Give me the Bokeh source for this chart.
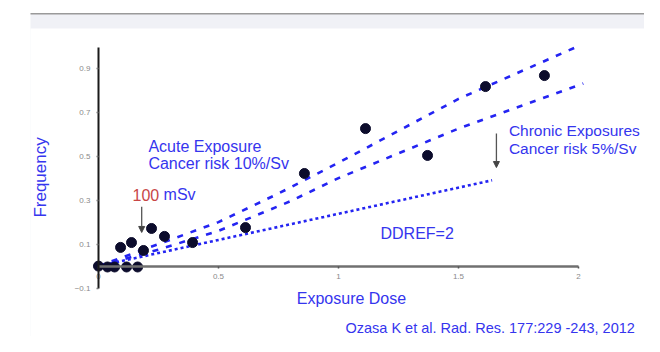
import math
from bokeh.plotting import figure
from bokeh.models import (Range1d, LinearAxis, FixedTicker, Label, Arrow, NormalHead,
                          BoxAnnotation)
from bokeh.embed import file_html
from bokeh.resources import INLINE

# ---- data ----
dose = [0.0, 0.0375, 0.067, 0.117, 0.163, 0.092, 0.1375, 0.1875, 0.221, 0.275,
        0.392, 0.6125, 0.858, 1.1125, 1.371, 1.6125, 1.858]
freq = [0.0, -0.004, -0.004, -0.004, -0.004, 0.085, 0.107, 0.071, 0.171, 0.135,
        0.107, 0.175, 0.421, 0.625, 0.503, 0.816, 0.866]

acute_x = [0.0, 0.2, 0.5, 0.75, 1.0, 1.5, 2.0]
acute_y = [0.0, 0.08, 0.2, 0.33, 0.47, 0.76, 1.0]
chronic_x = [0.0, 0.25, 0.5, 0.8, 1.0, 1.5, 2.02]
chronic_y = [0.0, 0.075, 0.16, 0.295, 0.40, 0.625, 0.83]
ddref_x = [0.0, 1.64]
ddref_y = [0.0, 0.39]

x_ticks = [0, 0.5, 1, 1.5, 2]
y_ticks = [-0.1, 0.1, 0.3, 0.5, 0.7, 0.9]

FONT = "Liberation Sans"
BLUE_TXT = "#3535ee"
BLUE_LN = "#2424f2"
DOT = "#0c0c2c"

W, H = 644, 336
p = figure(width=W, height=H, output_backend="svg", toolbar_location=None,
           x_range=Range1d(-0.2833, 2.275), y_range=Range1d(-0.32, 1.1618),
           x_axis_type=None, y_axis_type=None,
           min_border_left=30, min_border_right=0, min_border_top=10,
           min_border_bottom=0)
p.outline_line_color = None
p.grid.visible = False
p.background_fill_color = "white"
p.border_fill_color = "white"

# slide-like background band
def cbox(l, r, t, b, color):
    p.add_layout(BoxAnnotation(left=l, right=r, top=t, bottom=b,
                               left_units="canvas", right_units="canvas",
                               top_units="canvas", bottom_units="canvas",
                               fill_color=color, fill_alpha=1, line_color=None,
                               level="underlay"))

cbox(8, W, 13, H, "#f0f1f6")
cbox(15, W, 28, H, "#ffffff")
cbox(8, W, 12.5, 14, "#9a9a9a")

# x axis: sits at y = 0, labels below the line
xaxis = LinearAxis(fixed_location=0, bounds=(0, 2),
                   ticker=FixedTicker(ticks=x_ticks))
xaxis.major_label_overrides = {0: "0", 1: "1", 2: "2"}
xaxis.axis_line_color = "#707070"
xaxis.axis_line_width = 2.5
xaxis.major_tick_line_color = "#555555"
xaxis.major_tick_line_width = 1.5
xaxis.major_tick_out = 0
xaxis.major_tick_in = 2
xaxis.minor_tick_out = 0
xaxis.minor_tick_in = 0
xaxis.minor_tick_line_color = None
xaxis.major_label_text_font = FONT
xaxis.major_label_text_font_size = "8px"
xaxis.major_label_text_color = "#8a8a8a"
xaxis.major_label_standoff = -13
p.add_layout(xaxis, "above")

# y axis: sits at x = 0
yaxis = LinearAxis(fixed_location=0, bounds=(-0.1, 0.994),
                   ticker=FixedTicker(ticks=y_ticks))
yaxis.axis_line_color = "#1a1a1a"
yaxis.axis_line_width = 2
yaxis.major_tick_line_color = "#777777"
yaxis.major_tick_line_width = 1.5
yaxis.major_tick_out = 2
yaxis.major_tick_in = 0
yaxis.minor_tick_out = 0
yaxis.minor_tick_in = 0
yaxis.minor_tick_line_color = None
yaxis.major_label_text_font = FONT
yaxis.major_label_text_font_size = "8px"
yaxis.major_label_text_color = "#8a8a8a"
yaxis.major_label_standoff = 6
p.add_layout(yaxis, "left")

# model lines
p.line(acute_x, acute_y, line_color=BLUE_LN, line_width=2.6, line_dash="6 8")
p.line(chronic_x, chronic_y, line_color=BLUE_LN, line_width=2.6, line_dash="6 8")
p.line(ddref_x, ddref_y, line_color=BLUE_LN, line_width=2.6, line_dash="3 3")

# observed points
p.scatter(dose, freq, size=10, marker="circle", fill_color=DOT, line_color=DOT)

# arrows
for xa, ya0, ya1 in [(0.18, 0.27, 0.153), (1.658, 0.603, 0.448)]:
    p.add_layout(Arrow(x_start=xa, y_start=ya0, x_end=xa, y_end=ya1,
                       line_color="#555555", line_width=1.3,
                       end=NormalHead(size=6, fill_color="#444444",
                                      line_color="#444444")))

def lab(x, y, text, color=BLUE_TXT, size="16px", x_offset=0, align="left", angle=0.0):
    p.add_layout(Label(x=x, y=y, text=text, text_font=FONT, text_font_size=size,
                       text_color=color, text_baseline="middle", text_align=align,
                       x_offset=x_offset, angle=angle))

# axis titles
lab(-0.2417, 0.403, "Frequency", size="17px", align="center", angle=math.pi / 2)
lab(1.054, -0.147, "Exposure Dose", align="center")

lab(0.208, 0.544, "Acute Exposure")
lab(0.208, 0.466, "Cancer risk 10%/Sv")
lab(0.142, 0.325, "100", color="#c84646")
lab(0.142, 0.325, "mSv", x_offset=31)
lab(1.71, 0.616, "Chronic Exposures", size="15.5px")
lab(1.71, 0.535, "Cancer risk 5%/Sv", size="15.5px")
lab(1.175, 0.148, "DDREF=2")
lab(1.029, -0.283, "Ozasa K et al. Rad. Res. 177:229 -243, 2012", size="14.5px")

open("out.html", "w").write(file_html(p, INLINE))
